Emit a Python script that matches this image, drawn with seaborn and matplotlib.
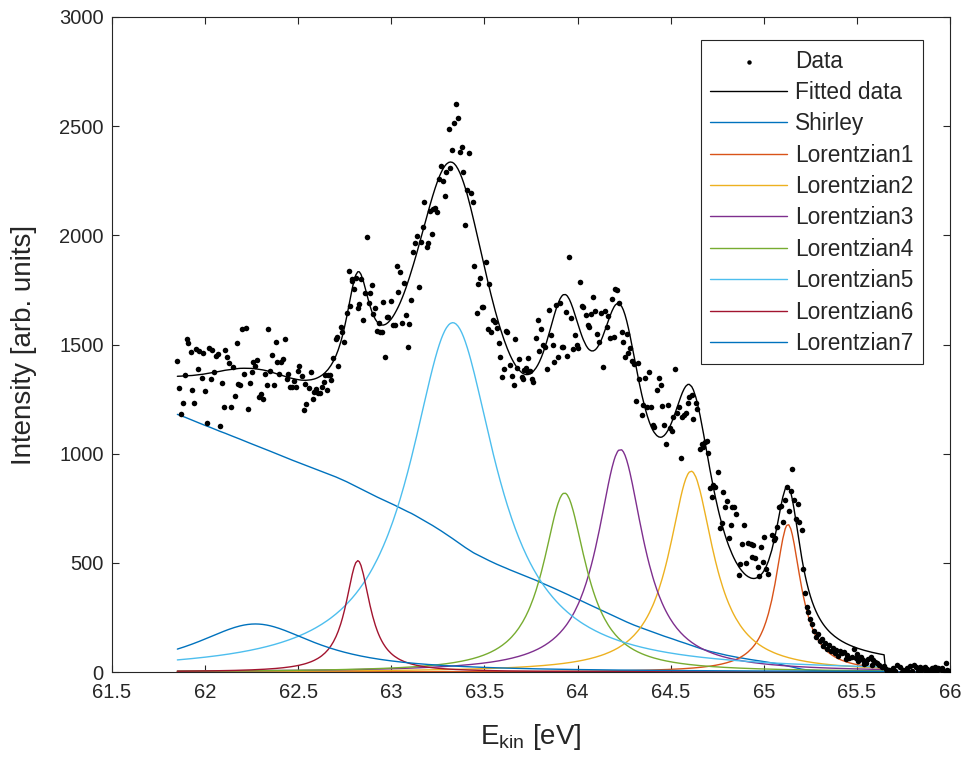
import numpy as np
import pandas as pd
import matplotlib
matplotlib.use("Agg")
import matplotlib.pyplot as plt
import seaborn as sns

# Measured spectrum: kinetic energy (eV) and intensity (arb. units)
energy = [
    61.851, 61.861, 61.871, 61.880, 61.890, 61.901, 61.910, 61.923, 61.930, 61.940,
    61.951, 61.960, 61.969, 61.982, 61.990, 62.001, 62.012, 62.021, 62.030, 62.039,
    62.049, 62.060, 62.071, 62.080, 62.089, 62.100, 62.108, 62.119, 62.128, 62.139,
    62.148, 62.159, 62.170, 62.178, 62.187, 62.198, 62.209, 62.220, 62.229, 62.240,
    62.250, 62.259, 62.270, 62.280, 62.289, 62.299, 62.309, 62.320, 62.331, 62.339,
    62.350, 62.359, 62.370, 62.379, 62.388, 62.398, 62.408, 62.418, 62.429, 62.438,
    62.447, 62.458, 62.468, 62.479, 62.488, 62.497, 62.504, 62.519, 62.530, 62.537,
    62.544, 62.558, 62.569, 62.578, 62.586, 62.595, 62.605, 62.617, 62.626, 62.637,
    62.644, 62.656, 62.660, 62.671, 62.676, 62.689, 62.703, 62.710, 62.715, 62.728,
    62.737, 62.748, 62.760, 62.771, 62.778, 62.787, 62.790, 62.800, 62.809, 62.820,
    62.828, 62.837, 62.850, 62.860, 62.868, 62.879, 62.886, 62.895, 62.900, 62.914,
    62.925, 62.932, 62.939, 62.948, 62.957, 62.968, 62.975, 62.984, 62.998, 63.008,
    63.018, 63.029, 63.038, 63.047, 63.059, 63.068, 63.079, 63.088, 63.097, 63.107,
    63.118, 63.127, 63.136, 63.147, 63.158, 63.169, 63.177, 63.190, 63.199, 63.208,
    63.217, 63.222, 63.235, 63.247, 63.258, 63.268, 63.276, 63.287, 63.296, 63.308,
    63.317, 63.328, 63.337, 63.347, 63.358, 63.369, 63.378, 63.387, 63.397, 63.408,
    63.417, 63.426, 63.437, 63.446, 63.458, 63.467, 63.476, 63.485, 63.494, 63.507,
    63.517, 63.526, 63.535, 63.548, 63.557, 63.566, 63.577, 63.585, 63.596, 63.605,
    63.616, 63.623, 63.637, 63.647, 63.658, 63.666, 63.677, 63.684, 63.700, 63.706,
    63.713, 63.722, 63.727, 63.736, 63.745, 63.756, 63.763, 63.777, 63.786, 63.795,
    63.806, 63.816, 63.825, 63.834, 63.845, 63.856, 63.866, 63.875, 63.886, 63.895,
    63.906, 63.915, 63.923, 63.936, 63.945, 63.956, 63.965, 63.976, 63.985, 63.996,
    64.004, 64.015, 64.024, 64.031, 64.046, 64.055, 64.063, 64.074, 64.085, 64.096,
    64.106, 64.117, 64.126, 64.135, 64.146, 64.157, 64.165, 64.175, 64.185, 64.196,
    64.203, 64.214, 64.220, 64.237, 64.246, 64.255, 64.264, 64.273, 64.282, 64.294,
    64.303, 64.314, 64.323, 64.332, 64.345, 64.354, 64.362, 64.375, 64.386, 64.397,
    64.404, 64.411, 64.425, 64.436, 64.447, 64.454, 64.465, 64.474, 64.484, 64.497,
    64.506, 64.515, 64.524, 64.533, 64.544, 64.554, 64.563, 64.572, 64.581, 64.592,
    64.600, 64.613, 64.622, 64.635, 64.643, 64.658, 64.667, 64.676, 64.685, 64.694,
    64.703, 64.711, 64.722, 64.730, 64.740, 64.754, 64.763, 64.773, 64.780, 64.790,
    64.800, 64.812, 64.823, 64.830, 64.838, 64.850, 64.866, 64.873, 64.883, 64.895,
    64.905, 64.916, 64.930, 64.935, 64.944, 64.953, 64.967, 64.975, 64.984, 64.994,
    65.001, 65.012, 65.025, 65.043, 65.055, 65.060, 65.073, 65.084, 65.091, 65.102,
    65.115, 65.123, 65.134, 65.145, 65.153, 65.163, 65.173, 65.183, 65.191, 65.204,
    65.213, 65.222, 65.230, 65.240, 65.250, 65.260, 65.270, 65.280, 65.290, 65.300,
    65.310, 65.320, 65.330, 65.340, 65.350, 65.360, 65.370, 65.380, 65.390, 65.400,
    65.410, 65.419, 65.431, 65.440, 65.449, 65.460, 65.473, 65.485, 65.495, 65.500,
    65.508, 65.521, 65.532, 65.540, 65.550, 65.562, 65.575, 65.580, 65.589, 65.598,
    65.610, 65.620, 65.634, 65.646, 65.655, 65.660, 65.675, 65.685, 65.696, 65.705,
    65.718, 65.729, 65.740, 65.750, 65.760, 65.768, 65.780, 65.786, 65.795, 65.807,
    65.818, 65.830, 65.840, 65.845, 65.854, 65.866, 65.870, 65.879, 65.890, 65.902,
    65.910, 65.920, 65.925, 65.933, 65.943, 65.956, 65.965, 65.979, 65.986, 65.995,
]
intensity = [
    1425, 1301, 1182, 1234, 1360, 1525, 1509, 1466, 1292, 1232,
    1480, 1388, 1472, 1347, 1463, 1287, 1142, 1484, 1344, 1475,
    1374, 1449, 1458, 1127, 1323, 1213, 1474, 1443, 1415, 1215,
    1396, 1264, 1509, 1321, 1315, 1571, 1365, 1575, 1203, 1324,
    1374, 1422, 1403, 1429, 1261, 1272, 1250, 1363, 1316, 1569,
    1380, 1454, 1315, 1510, 1419, 1363, 1422, 1434, 1527, 1340,
    1365, 1307, 1306, 1334, 1304, 1379, 1403, 1357, 1200, 1321,
    1229, 1302, 1376, 1249, 1284, 1295, 1276, 1276, 1307, 1327,
    1360, 1292, 1360, 1360, 1338, 1436, 1524, 1533, 1403, 1579,
    1556, 1513, 1646, 1837, 1677, 1791, 1799, 1754, 1803, 1665,
    1686, 1799, 1612, 1738, 1994, 1689, 1738, 1773, 1640, 1665,
    1562, 1597, 1559, 1559, 1695, 1441, 1628, 1625, 1701, 1590,
    1590, 1861, 1742, 1834, 1600, 1780, 1635, 1490, 1594, 1704,
    1925, 1964, 1997, 1765, 1968, 2037, 2152, 1945, 1966, 2113,
    2006, 2119, 2127, 2108, 2257, 2317, 2251, 2181, 2292, 2489,
    2307, 2391, 2516, 2602, 2539, 2381, 2403, 2292, 2046, 2208,
    2376, 2196, 2153, 1861, 1643, 1777, 1803, 1674, 1674, 1878,
    1570, 1776, 1555, 1612, 1605, 1577, 1509, 1444, 1353, 1387,
    1562, 1555, 1406, 1357, 1315, 1527, 1391, 1432, 1353, 1341,
    1383, 1391, 1380, 1438, 1380, 1341, 1330, 1528, 1612, 1472,
    1570, 1498, 1490, 1388, 1658, 1544, 1498, 1422, 1681, 1441,
    1692, 1487, 1487, 1647, 1448, 1903, 1620, 1478, 1544, 1498,
    1483, 1787, 1678, 1670, 1635, 1590, 1579, 1640, 1719, 1654,
    1548, 1513, 1642, 1399, 1655, 1579, 1631, 1531, 1708, 1536,
    1753, 1750, 1692, 1559, 1513, 1441, 1548, 1460, 1483, 1426,
    1411, 1243, 1417, 1341, 1176, 1223, 1345, 1212, 1376, 1212,
    1131, 1124, 1292, 1348, 1315, 1220, 1131, 1043, 1223, 1116,
    1105, 1170, 1389, 1185, 1215, 979, 1170, 1177, 1185, 1234,
    1261, 1269, 1158, 1234, 1203, 1020, 1044, 1032, 1055, 1060,
    1002, 842, 800, 857, 849, 916, 661, 684, 826, 757,
    785, 612, 673, 754, 757, 724, 444, 495, 585, 673,
    501, 592, 586, 528, 582, 521, 480, 441, 574, 505,
    617, 470, 449, 628, 605, 612, 666, 754, 760, 688,
    788, 846, 739, 831, 928, 788, 699, 770, 688, 650,
    470, 360, 300, 275, 245, 220, 190, 160, 175, 140,
    150, 120, 135, 105, 125, 95, 110, 85, 100, 75,
    95, 89, 93, 60, 78, 66, 70, 104, 65, 82,
    52, 70, 55, 35, 43, 61, 70, 30, 55, 47,
    40, 32, 21, 27, 15, 5, 8, 3, 17, 6,
    32, 21, 2, 8, 4, 17, 0, 27, 6, 32,
    21, 3, 25, 7, 17, 21, 2, 12, 5, 17,
    0, 21, 4, 17, 12, 17, 6, 40, 9, 3,
]

# Fit components: Lorentzian peaks (centre, height, half width at half maximum)
peak_names = ["Lorentzian1", "Lorentzian2", "Lorentzian3", "Lorentzian4",
              "Lorentzian5", "Lorentzian6", "Lorentzian7"]
peak_centers = [65.13, 64.61, 64.23, 63.93, 63.33, 62.82, 62.27]
peak_heights = [676, 920, 1020, 820, 1600, 510, 220]
peak_hwhm = [0.085, 0.145, 0.15, 0.14, 0.28, 0.08, 0.40]

shirley_start = 1180      # background level at the low-energy end
fit_end = 65.652          # upper edge of the fit window (eV)

x_ticks = [61.5, 62, 62.5, 63, 63.5, 64, 64.5, 65, 65.5, 66]
x_tick_labels = ["61.5", "62", "62.5", "63", "63.5", "64", "64.5", "65", "65.5", "66"]
y_ticks = [0, 500, 1000, 1500, 2000, 2500, 3000]

colors = {
    "Fitted data": "#000000",
    "Shirley": "#0072BD",
    "Lorentzian1": "#D95319",
    "Lorentzian2": "#EDB120",
    "Lorentzian3": "#7E2F8E",
    "Lorentzian4": "#77AC30",
    "Lorentzian5": "#4DBEEE",
    "Lorentzian6": "#A2142F",
    "Lorentzian7": "#0072BD",
}

# ---- model evaluated on the measurement grid ----
x = np.asarray(energy, dtype=float)
y = np.asarray(intensity, dtype=float)
in_fit = x <= fit_end

# Shirley background: proportional to the integrated signal to the right
sig = np.where(in_fit, y, 0.0)
seg = 0.5 * (sig[1:] + sig[:-1]) * np.diff(x)
tail = np.concatenate([np.cumsum(seg[::-1])[::-1], [0.0]])
shirley = shirley_start * tail / tail[0]
shirley[~in_fit] = 0.0

components = {"Shirley": shirley}
for name, c, h, w in zip(peak_names, peak_centers, peak_heights, peak_hwhm):
    components[name] = np.where(in_fit, h / (1.0 + ((x - c) / w) ** 2), 0.0)
fitted = np.sum(np.vstack(list(components.values())), axis=0)

curves = {"Fitted data": fitted}
curves.update(components)

# ---- drawing ----
sns.set_theme(style="ticks")
plt.rcParams["font.family"] = ["Liberation Sans", "DejaVu Sans"]
plt.rcParams["mathtext.fontset"] = "custom"
plt.rcParams["mathtext.rm"] = "Liberation Sans"
plt.rcParams["mathtext.it"] = "Liberation Sans:italic"

fig = plt.figure(figsize=(9.64, 7.60), dpi=100)
ax = fig.add_axes([112 / 964, 1 - 672 / 760, 838 / 964, 655 / 760])

data_df = pd.DataFrame({"E": x, "I": y})
sns.scatterplot(data=data_df, x="E", y="I", ax=ax, color="black", s=16,
                linewidth=0, label="Data", zorder=3)

for name, vals in curves.items():
    df = pd.DataFrame({"E": x, "I": vals})
    sns.lineplot(data=df, x="E", y="I", ax=ax, color=colors[name], linewidth=1.0,
                 estimator=None, sort=False, label=name, zorder=2)

ax.set_xlim(61.5, 66)
ax.set_ylim(0, 3000)
ax.set_xticks(x_ticks)
ax.set_xticklabels(x_tick_labels)
ax.set_yticks(y_ticks)

ax.tick_params(direction="in", length=5, width=0.8, labelsize=14.5,
               colors="#262626", top=True, right=True, pad=6)
ax.tick_params(axis="x", pad=8)
for sp in ax.spines.values():
    sp.set_visible(True)
    sp.set_color("#262626")
    sp.set_linewidth(0.8)

ax.set_xlabel(r"E$_{\mathrm{kin}}$ [eV]", fontsize=20, color="#262626")
ax.set_ylabel("Intensity [arb. units]", fontsize=20, color="#262626")
ax.xaxis.set_label_coords(0.5, -0.076)
ax.yaxis.set_label_coords(-0.089, 0.5)

handles, labels = ax.get_legend_handles_labels()
leg = ax.legend(handles, labels, loc="upper right", bbox_to_anchor=(923 / 964, 1 - 40 / 760),
                bbox_transform=fig.transFigure, fontsize=16.3, frameon=True,
                fancybox=False, shadow=False, framealpha=1, edgecolor="#262626",
                handlelength=3.4, handletextpad=0.35, labelspacing=0.37,
                borderpad=0.42, borderaxespad=0, markerscale=0.8)
leg.get_frame().set_linewidth(0.8)

fig.savefig("out.png", dpi=100)
